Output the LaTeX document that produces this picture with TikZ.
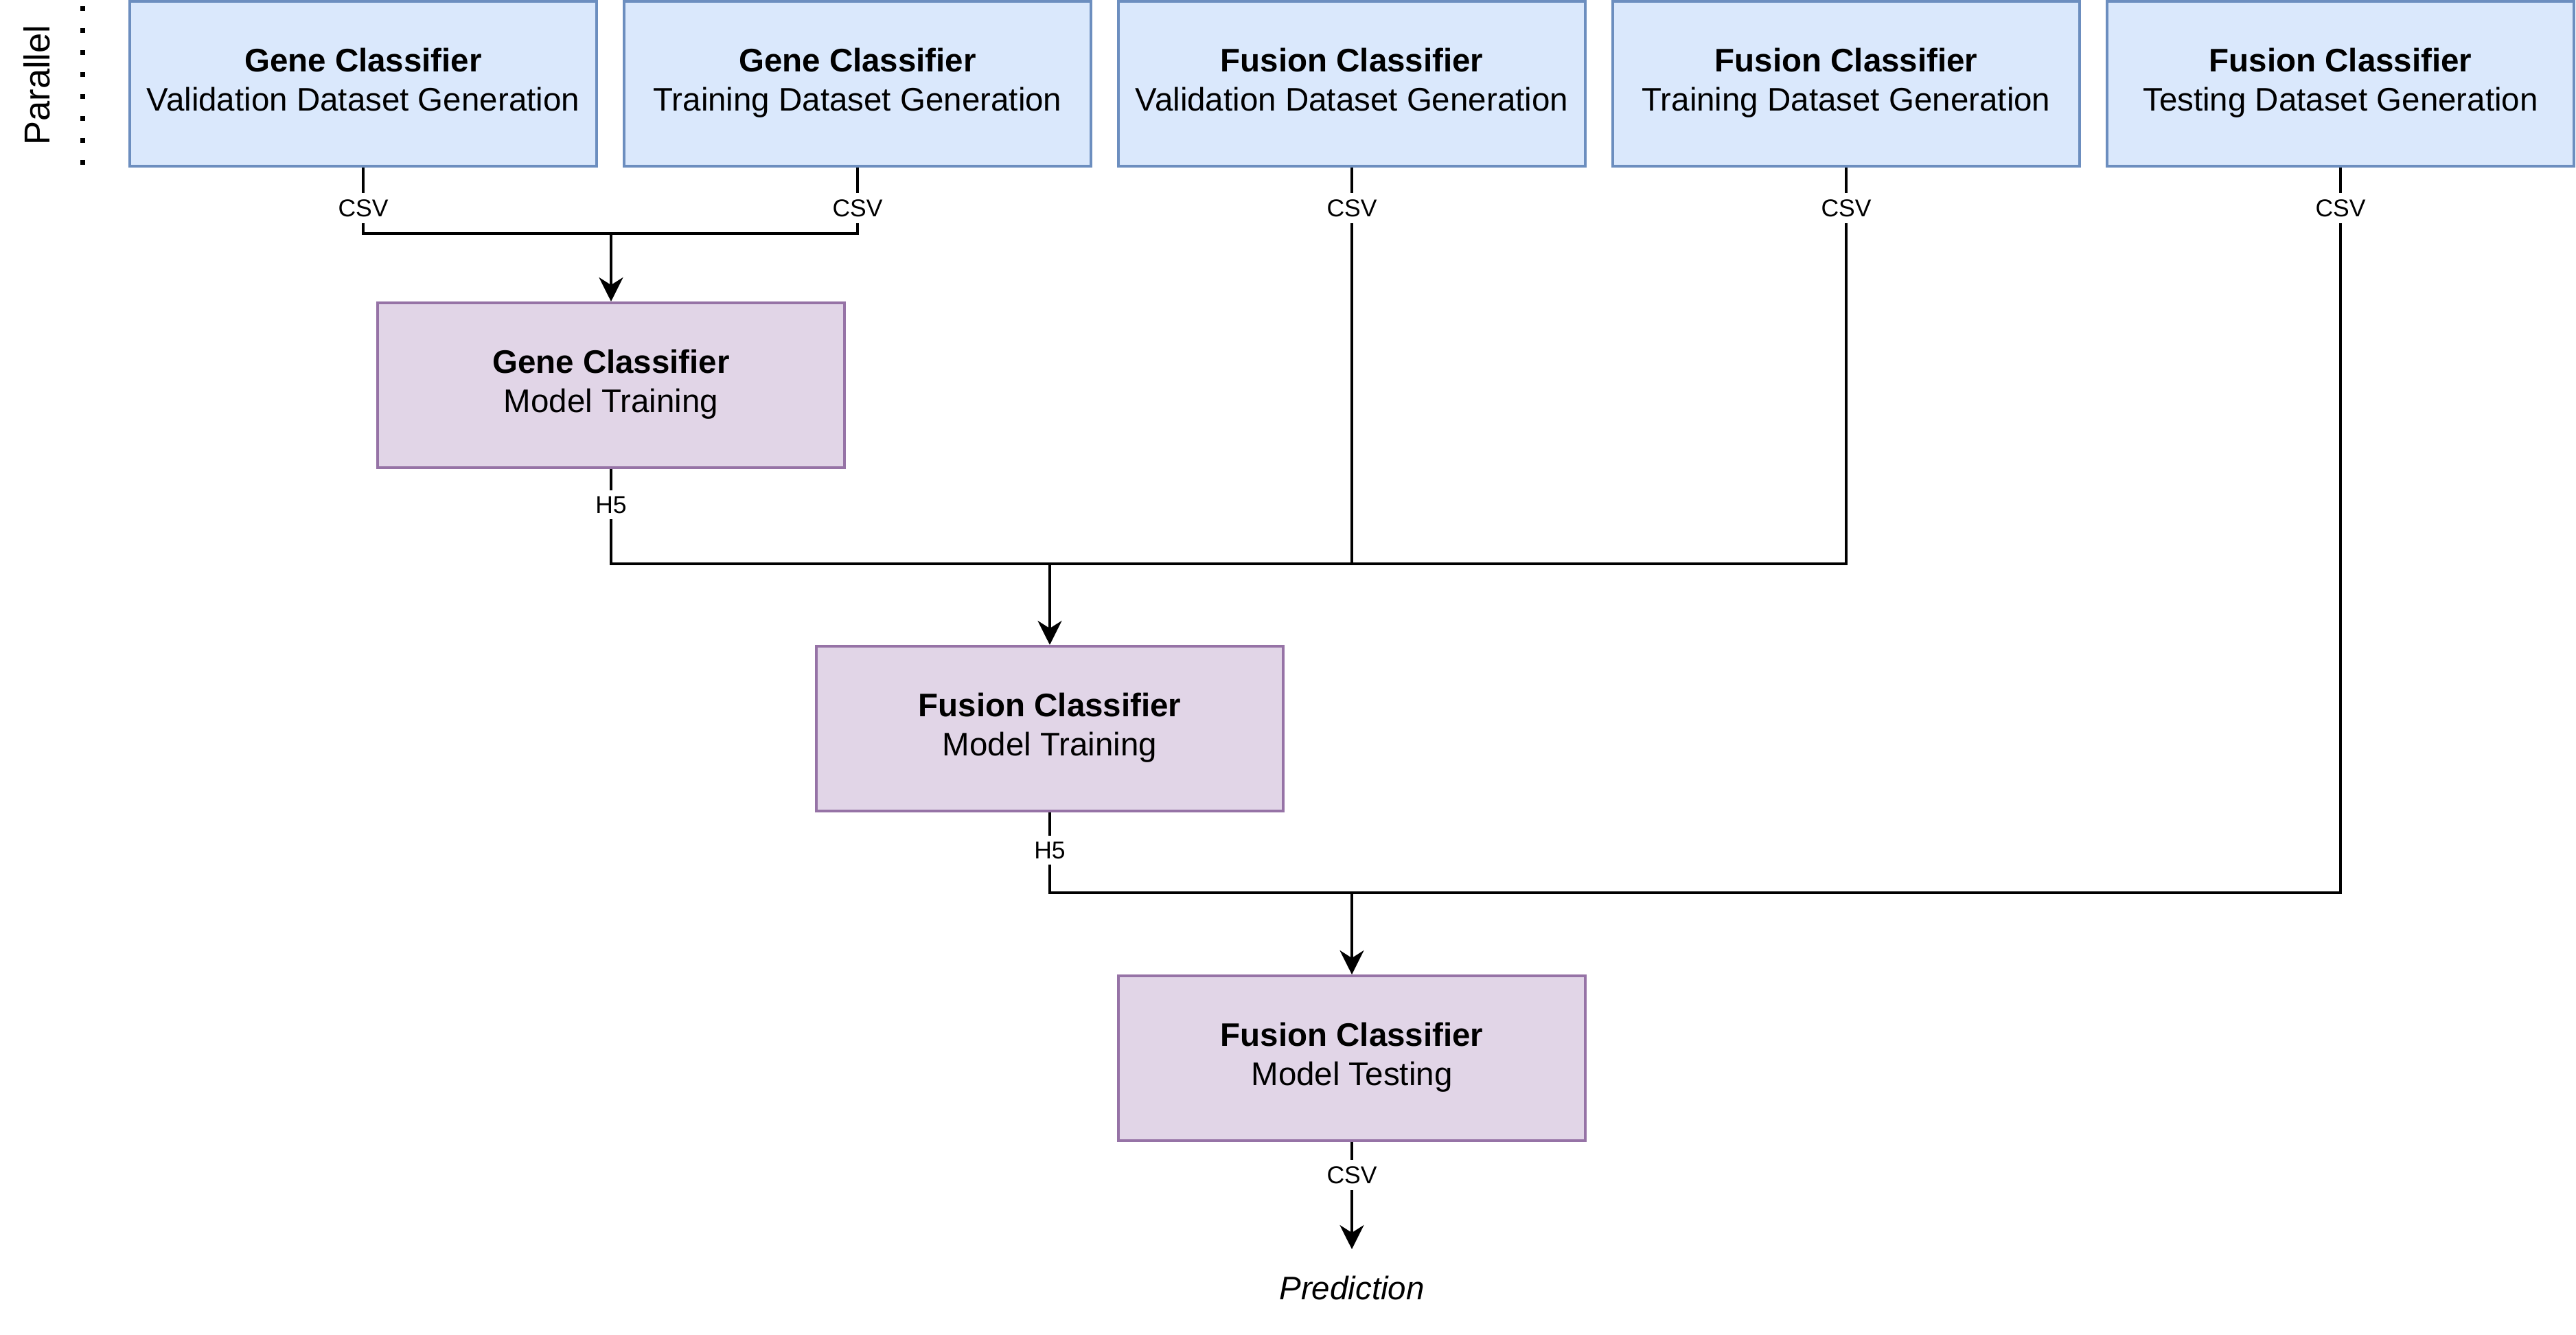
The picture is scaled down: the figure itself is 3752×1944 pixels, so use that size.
\documentclass[tikz,border=0pt]{standalone}
\usepackage{fontspec}
\setmainfont{Liberation Sans}
\usetikzlibrary{arrows.meta}
\definecolor{bluefill}{HTML}{DAE8FC}
\definecolor{blueline}{HTML}{6C8EBF}
\definecolor{purpfill}{HTML}{E1D5E7}
\definecolor{purpline}{HTML}{9673A6}
\newcommand{\twolines}[2]{\textbf{#1}\strut\\#2\strut}
\begin{document}
\begin{tikzpicture}[x=0.2pt,y=-0.2pt,
  box/.style={draw, line width=0.8pt, minimum width=136pt, minimum height=48pt, inner sep=0pt, align=center, font=\fontsize{9.5}{11.4}\selectfont},
  gen/.style={box, fill=bluefill, draw=blueline},
  proc/.style={box, fill=purpfill, draw=purpline},
  lbl/.style={fill=white, inner sep=1.8pt, font=\fontsize{7.1}{8.5}\selectfont},
  wire/.style={line width=0.8pt, draw=black},
  arr/.style={wire, -{Stealth[length=7pt,width=7pt,inset=2.2pt]}},
]
\useasboundingbox (0,0) rectangle (3752,1944);

% Parallel marker
\node[rotate=90, font=\fontsize{10.5}{12}\selectfont, inner sep=0pt] (par) at (54,124) {Parallel};
\coordinate (dtop) at (120,9);
\coordinate (dbot) at (120,242);
\draw[line width=1.4pt, dash pattern=on 1.4pt off 5pt] (dtop) -- (dbot);

% top row
\node[gen] (g1) at (529,122) {\twolines{Gene Classifier}{Validation Dataset Generation}};
\node[gen] (g2) at (1249,122) {\twolines{Gene Classifier}{Training Dataset Generation}};
\node[gen] (f1) at (1969,122) {\twolines{Fusion Classifier}{Validation Dataset Generation}};
\node[gen] (f2) at (2689,122) {\twolines{Fusion Classifier}{Training Dataset Generation}};
\node[gen] (f3) at (3409,122) {\twolines{Fusion Classifier}{Testing Dataset Generation}};

% processing boxes
\node[proc] (gmt) at (890,561) {\twolines{Gene Classifier}{Model Training}};
\node[proc] (fmt) at (1529,1061) {\twolines{Fusion Classifier}{Model Training}};
\node[proc] (ftest) at (1969,1541) {\twolines{Fusion Classifier}{Model Testing}};

% merge points
\coordinate (m1) at (890,340);
\coordinate (m2) at (1529,821);
\coordinate (m3) at (1969,1300);
\coordinate (predtip) at (1969,1819);

% connectors
\draw[wire] (g1.south) |- (m1);
\draw[wire] (g2.south) |- (m1);
\draw[arr] (m1) -- (gmt.north);

\draw[wire] (gmt.south) |- (m2);
\draw[wire] (f1.south) |- (m2);
\draw[wire] (f2.south) |- (m2);
\draw[arr] (m2) -- (fmt.north);

\draw[wire] (fmt.south) |- (m3);
\draw[wire] (f3.south) |- (m3);
\draw[arr] (m3) -- (ftest.north);

\draw[arr] (ftest.south) -- (predtip);

% labels
\node[lbl] (c1) at (529,303) {CSV};
\node[lbl] (c2) at (1249,303) {CSV};
\node[lbl] (c3) at (1969,303) {CSV};
\node[lbl] (c4) at (2689,303) {CSV};
\node[lbl] (c5) at (3409,303) {CSV};
\node[lbl] (h1) at (890,735) {H5};
\node[lbl] (h2) at (1529,1238) {H5};
\node[lbl] (c6) at (1969,1711) {CSV};

\node[font=\fontsize{9.5}{11.4}\selectfont\itshape] (pred) at (1969,1876) {Prediction};
\end{tikzpicture}
\end{document}
